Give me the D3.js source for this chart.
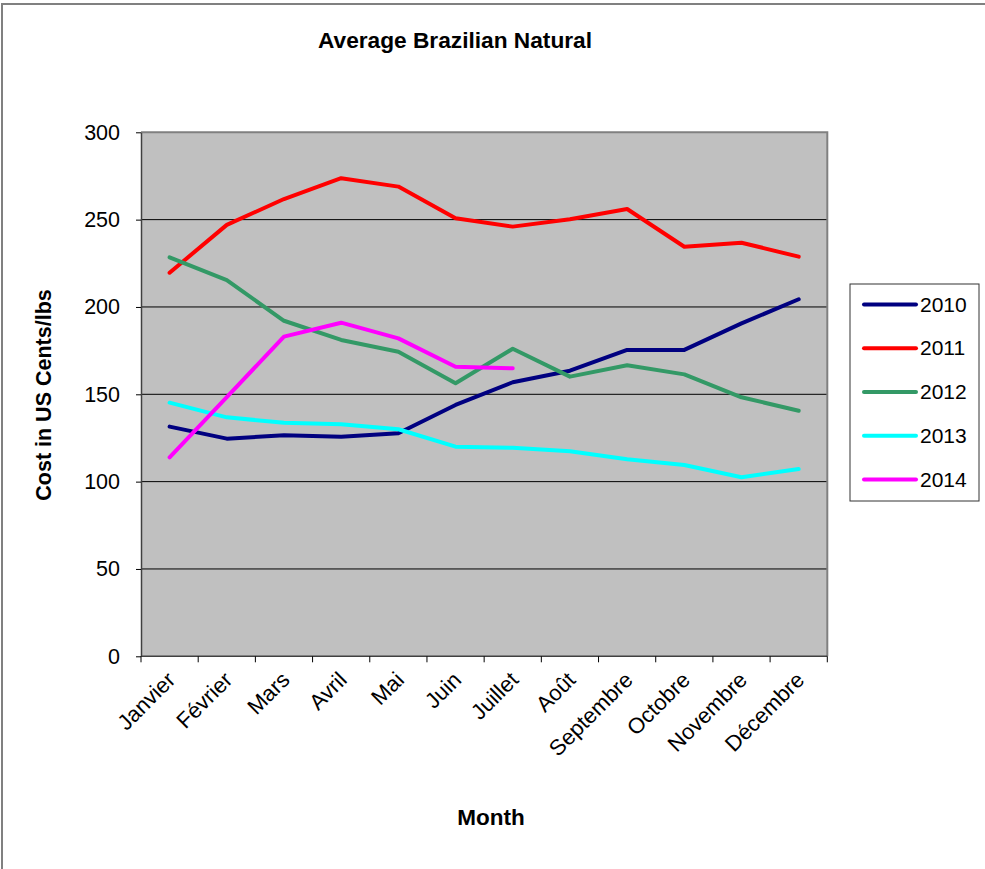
<!DOCTYPE html>
<html>
<head>
<meta charset="utf-8">
<script src="https://cdn.jsdelivr.net/npm/d3@7"></script>
<style>
  html, body { margin: 0; padding: 0; background: #fff; }
  svg { display: block; font-family: Arial, "Liberation Sans", sans-serif; }
</style>
</head>
<body>
<svg id="chart" width="985" height="869"></svg>
<script>
// Monthly average price of Brazilian Naturals, US cents per lb
const months = ["Janvier", "Février", "Mars", "Avril", "Mai", "Juin", "Juillet",
                "Août", "Septembre", "Octobre", "Novembre", "Décembre"];
const years = ["2010", "2011", "2012", "2013", "2014"];
const colors = ["#000080", "#ff0000", "#339966", "#00ffff", "#ff00ff"];
const values2010 = [131.5, 124.6, 126.5, 125.7, 127.7, 143.9, 156.9, 163.5, 175.4, 175.4, 190.6, 204.4];
const values2011 = [219.6, 247.0, 261.8, 273.7, 268.9, 250.8, 246.0, 250.2, 256.1, 234.5, 236.8, 228.8];
const values2012 = [228.4, 215.4, 192.1, 181.1, 174.4, 156.3, 176.1, 160.1, 166.6, 161.4, 148.3, 140.6];
const values2013 = [145.2, 136.8, 133.7, 132.8, 130.0, 120.0, 119.4, 117.4, 112.8, 109.5, 102.5, 107.2];
const values2014 = [113.9, 148.4, 183.0, 191.0, 182.0, 165.8, 164.9];
const yTicks = [0, 50, 100, 150, 200, 250, 300];

const series = [values2010, values2011, values2012, values2013, values2014];

const svg = d3.select("#chart");
const plot = { left: 141, top: 132.3, right: 827.3, bottom: 656.3 };

// outer frame
svg.append("rect")
  .attr("x", 2).attr("y", 4).attr("width", 1000).attr("height", 900)
  .attr("fill", "#fff").attr("stroke", "#808080").attr("stroke-width", 2);

const x = d3.scaleBand().domain(months).range([plot.left, plot.right]).paddingInner(0).paddingOuter(0);
const y = d3.scaleLinear().domain([0, 300]).range([plot.bottom, plot.top]);

// plot background
svg.append("rect")
  .attr("x", plot.left).attr("y", plot.top)
  .attr("width", plot.right - plot.left).attr("height", plot.bottom - plot.top)
  .attr("fill", "#c0c0c0");

// gridlines
svg.append("g")
  .selectAll("line")
  .data(yTicks.filter(t => t > 0 && t < 300))
  .join("line")
  .attr("x1", plot.left).attr("x2", plot.right)
  .attr("y1", d => y(d)).attr("y2", d => y(d))
  .attr("stroke", "#000").attr("stroke-width", 1);

// top and right plot border
svg.append("path")
  .attr("d", `M${plot.left},${plot.top}H${plot.right}V${plot.bottom}`)
  .attr("fill", "none").attr("stroke", "#808080").attr("stroke-width", 2);

// y axis
const yAxis = svg.append("g")
  .attr("transform", `translate(${plot.left},0)`)
  .call(d3.axisLeft(y).tickValues(yTicks).tickSize(5).tickPadding(16).tickSizeOuter(0));
yAxis.select(".domain").attr("stroke", "#404040").attr("stroke-width", 1.5);
yAxis.selectAll(".tick line").attr("stroke", "#000");
yAxis.selectAll("text").attr("font-size", 21.5).attr("fill", "#000")
  .attr("font-family", "Arial, 'Liberation Sans', sans-serif");

// x axis: ticks at band boundaries
const xAxis = svg.append("g")
  .attr("transform", `translate(0,${plot.bottom})`);
xAxis.append("line")
  .attr("x1", plot.left).attr("x2", plot.right)
  .attr("stroke", "#404040").attr("stroke-width", 1.5);
const edges = months.map(m => x(m)).concat([plot.right]);
xAxis.selectAll("line.tk").data(edges).join("line").attr("class", "tk")
  .attr("x1", d => d).attr("x2", d => d).attr("y1", 0).attr("y2", 6)
  .attr("stroke", "#000");
xAxis.selectAll("text").data(months).join("text")
  .attr("transform", d => `translate(${x(d) + x.bandwidth() / 2 + 7},${25}) rotate(-45)`)
  .attr("text-anchor", "end")
  .attr("font-size", 22)
  .attr("fill", "#000")
  .text(d => d);

// lines
const line = d3.line()
  .x((d, i) => x(months[i]) + x.bandwidth() / 2)
  .y(d => y(d));

svg.append("g").selectAll("path")
  .data(series)
  .join("path")
  .attr("d", d => line(d))
  .attr("fill", "none")
  .attr("stroke", (d, i) => colors[i])
  .attr("stroke-width", 4)
  .attr("stroke-linejoin", "round")
  .attr("stroke-linecap", "round");

// title and axis titles
svg.append("text")
  .attr("x", 455).attr("y", 48)
  .attr("text-anchor", "middle")
  .attr("font-size", 22.7).attr("font-weight", "bold")
  .text("Average Brazilian Natural");

svg.append("text")
  .attr("transform", "translate(51,395) rotate(-90)")
  .attr("text-anchor", "middle")
  .attr("font-size", 21.5).attr("font-weight", "bold")
  .text("Cost in US Cents/lbs");

svg.append("text")
  .attr("x", 491).attr("y", 825)
  .attr("text-anchor", "middle")
  .attr("font-size", 22.5).attr("font-weight", "bold")
  .text("Month");

// legend
const legend = svg.append("g");
legend.append("rect")
  .attr("x", 850).attr("y", 284).attr("width", 129).attr("height", 217)
  .attr("fill", "#fff").attr("stroke", "#333").attr("stroke-width", 1);
const rowY = d3.scalePoint().domain(years).range([304.5, 479.5]);
const rows = legend.selectAll("g.row").data(years).join("g").attr("class", "row")
  .attr("transform", d => `translate(0,${rowY(d)})`);
rows.append("line")
  .attr("x1", 864).attr("x2", 916)
  .attr("stroke", (d, i) => colors[i]).attr("stroke-width", 4)
  .attr("stroke-linecap", "round");
rows.append("text")
  .attr("x", 920).attr("y", 7)
  .attr("font-size", 21)
  .text(d => d);
</script>
</body>
</html>
